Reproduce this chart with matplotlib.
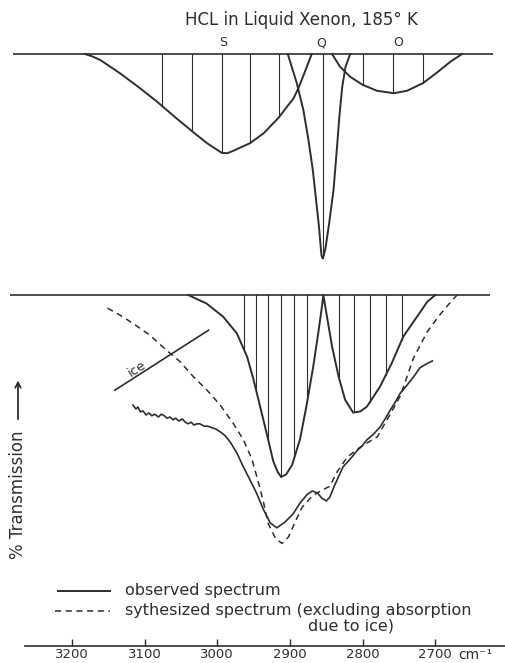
import numpy as np
import matplotlib.pyplot as plt
from matplotlib.lines import Line2D

# upper trace: resolved S, Q and O branches (cm-1, % transmission)
s_nu = [3182, 3172, 3161, 3134, 3106, 3083, 3056, 3034, 3014, 2994, 2986, 2978,
        2955, 2936, 2915, 2905, 2895, 2888, 2881, 2870]
s_T = [100, 99.4, 98.5, 95.2, 91.4, 88.1, 83.9, 80.6, 77.7, 75.3, 75.2, 75.8,
       77.7, 80.2, 84.2, 86.6, 88.9, 91.6, 94.8, 100]

q_nu = [2903, 2890.5, 2881.5, 2874.5, 2868.5, 2864, 2860, 2857.5, 2856.5, 2855,
        2853.5, 2851, 2846, 2840, 2835.5, 2832, 2828, 2823.5, 2817]
q_T = [100, 92.7, 86, 78.5, 71, 63.5, 56.8, 51.5, 49.6, 48.9, 49.6, 51.5, 57.7,
       66, 76, 84.3, 91.8, 96.8, 100]

o_nu = [2842, 2831, 2817, 2800, 2780, 2757, 2739, 2717, 2698, 2679, 2663]
o_T = [100, 96.8, 94.3, 92.3, 90.8, 90.2, 90.8, 92.7, 95.3, 98.1, 100]

# rotational lines marked under each branch
s_lines = [3076, 3035, 2994, 2955, 2915]
q_lines = [2855]
o_lines = [2799, 2758, 2717]

# lower trace: combined R and P wings
band_nu = [3040, 3015, 2992, 2973, 2959, 2950, 2941, 2932, 2923, 2917, 2912, 2905,
           2897, 2886, 2877, 2868, 2861, 2856, 2854, 2849, 2842, 2833, 2824, 2813,
           2803, 2794, 2776, 2760, 2744, 2725, 2711, 2700]
band_T = [100, 97.9, 94.6, 90.4, 84.6, 78.8, 72.1, 65.4, 58.5, 55.8, 54.5, 55.2,
          57.5, 64, 72.5, 82, 90.5, 97, 100, 94.6, 87.1, 79.6, 73.8, 70.6,
          70.9, 72.1, 77.1, 82.9, 89.6, 94.6, 98.3, 100]
band_lines = [2963, 2947, 2930, 2912, 2894, 2876, 2833, 2812, 2790, 2768, 2746]

# synthesized spectrum (dashed)
synth_nu = [3151, 3134, 3116, 3093, 3070, 3051, 3033, 3014, 2996, 2978, 2964,
            2952, 2943, 2936, 2930, 2920, 2911, 2902, 2893, 2883, 2869, 2856,
            2845, 2835, 2821, 2803, 2780, 2762, 2748, 2730, 2711, 2693, 2679, 2670]
synth_T = [96.7, 95.0, 92.9, 90.0, 86.2, 83.3, 79.6, 76.2, 72.5, 67.9, 63.8,
           58.8, 52.9, 47.9, 42.9, 39.2, 37.9, 39.5, 43.2, 47.0, 49.8, 51.2,
           52.2, 55.8, 59.5, 62.0, 64.5, 70.2, 74.8, 84.2, 90.8, 95.2, 98.2, 100]

# observed spectrum (recorder trace)
obs_nu = [3116, 3112, 3109, 3106, 3102, 3098, 3094, 3090, 3086, 3081, 3077, 3073,
          3069, 3065, 3061, 3057, 3053, 3048, 3044, 3040, 3036, 3032, 3028, 3024,
          3018, 3013, 3007, 3002, 2996, 2989, 2982, 2973, 2964, 2955, 2946, 2936,
          2927, 2918, 2907, 2896, 2886, 2876, 2869, 2862, 2856, 2850, 2845, 2839,
          2834, 2827, 2817, 2807, 2801, 2794, 2785, 2776, 2769, 2762, 2755, 2748,
          2740, 2730, 2721, 2712, 2704]
obs_T = [72.5, 71.5, 72.0, 70.8, 71.0, 70.0, 70.5, 69.8, 70.2, 69.5, 70.2, 69.8,
         69.2, 69.5, 68.8, 69.2, 68.5, 69.0, 68.2, 67.8, 68.2, 67.5, 67.8, 67.8,
         67.2, 67.2, 66.8, 66.5, 65.8, 64.8, 63.2, 60.5, 57.0, 53.8, 50.5, 46.2,
         43.0, 41.8, 43.2, 45.2, 48.0, 50.2, 51.0, 50.5, 49.2, 48.5, 49.5, 52.2,
         54.2, 57.0, 59.0, 61.2, 62.2, 63.8, 65.2, 67.0, 69.0, 71.2, 73.2, 75.5,
         77.2, 79.5, 81.8, 82.8, 83.5]

# ice absorption guide line
ice_nu = [3141, 3012]
ice_T = [76.2, 91.2]

ticks = [3200, 3100, 3000, 2900, 2800, 2700]

ink = '#2e2e2e'
W, H = 505, 663


def fx(x):
    return x / W


def fy(y):
    return 1 - y / H


def drop_lines(ax, where, nu, T):
    nu = np.asarray(nu)[::-1]
    T = np.asarray(T)[::-1]
    for w in where:
        ax.plot([w, w], [100, np.interp(w, nu, T)], color=ink, lw=0.8)


fig = plt.figure(figsize=(W / 100, H / 100), dpi=100)
fig.patch.set_facecolor('white')

ax_top = fig.add_axes([0, fy(280), 1, 280 / H])
ax_bot = fig.add_axes([0, fy(646), 1, (646 - 280) / H])
for ax in (ax_top, ax_bot):
    ax.set_xlim(3299, 2604)
    ax.set_facecolor('none')
    for side in ('left', 'right', 'top'):
        ax.spines[side].set_visible(False)
    ax.set_yticks([])
ax_top.set_ylim(43.5, 113.5)
ax_bot.set_ylim(12.25, 103.75)

# upper panel
ax_top.spines['bottom'].set_visible(False)
ax_top.set_xticks([])
ax_top.hlines(100, 3281, 2621, color=ink, lw=1.2)
for nu, T in ((s_nu, s_T), (q_nu, q_T), (o_nu, o_T)):
    ax_top.plot(nu, T, color=ink, lw=1.4)
drop_lines(ax_top, s_lines, s_nu, s_T)
drop_lines(ax_top, q_lines, q_nu, q_T)
drop_lines(ax_top, o_lines, o_nu, o_T)

# lower panel
ax_bot.hlines(100, 3285, 2624, color=ink, lw=1.2)
ax_bot.plot(band_nu, band_T, color=ink, lw=1.4)
drop_lines(ax_bot, band_lines, band_nu, band_T)
ax_bot.plot(synth_nu, synth_T, color=ink, lw=1.1, linestyle=(0, (4, 3)))
ax_bot.plot(obs_nu, obs_T, color=ink, lw=1.2)
ax_bot.plot(ice_nu, ice_T, color=ink, lw=1.2)

ax_bot.spines['bottom'].set_bounds(3265, 2604)
ax_bot.spines['bottom'].set_color(ink)
ax_bot.spines['bottom'].set_linewidth(1.2)
ax_bot.set_xticks(ticks)
ax_bot.set_xticklabels([str(t) for t in ticks])
ax_bot.tick_params(axis='x', direction='in', length=5, width=1, pad=1.5,
                   labelsize=9.5, colors=ink)

# labels
fig.text(fx(301), fy(20), 'HCL in Liquid Xenon, 185° K', ha='center',
         va='center', fontsize=12, color=ink)
for lab, x in (('S', 223), ('Q', 321), ('O', 398)):
    fig.text(fx(x), fy(43), lab, ha='center', va='center', fontsize=9, color=ink)
fig.text(fx(137), fy(369), 'ice', ha='center', va='center', fontsize=9.5,
         rotation=33, color=ink)
fig.text(fx(18), fy(495), '% Transmission', ha='center', va='center',
         rotation=90, fontsize=12, color=ink)
fig.add_artist(plt.annotate('', xy=(fx(18), fy(378)), xytext=(fx(18), fy(422)),
                            xycoords='figure fraction',
                            arrowprops=dict(arrowstyle='->', color=ink, lw=1)))
fig.text(fx(458), fy(655), 'cm⁻¹', ha='left', va='center', fontsize=10, color=ink)

# key
fig.add_artist(Line2D([fx(58), fx(110)], [fy(591), fy(591)], color=ink, lw=1.4))
fig.add_artist(Line2D([fx(55), fx(110)], [fy(611), fy(611)], color=ink, lw=1.1,
                      linestyle=(0, (4, 3))))
fig.text(fx(125), fy(590), 'observed spectrum', ha='left', va='center',
         fontsize=11.5, color=ink)
fig.text(fx(125), fy(610), 'sythesized spectrum (excluding absorption',
         ha='left', va='center', fontsize=11.5, color=ink)
fig.text(fx(308), fy(626), 'due to ice)', ha='left', va='center', fontsize=11.5,
         color=ink)

fig.savefig('out.png', dpi=100, facecolor='white')
